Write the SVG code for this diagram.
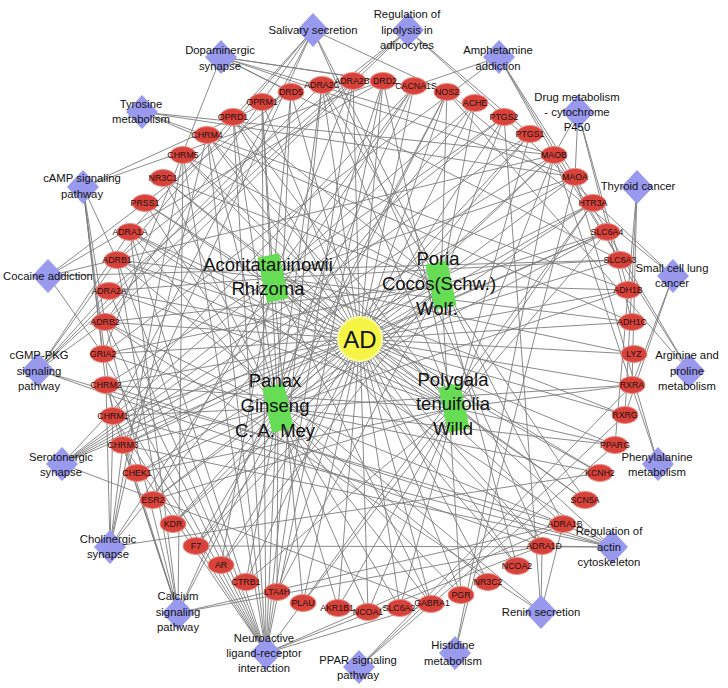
<svg xmlns="http://www.w3.org/2000/svg" xmlns:xlink="http://www.w3.org/1999/xlink" width="728" height="688" viewBox="0 0 728 688">
<style>
#edges line{stroke:#7d7d7d;stroke-width:0.9}
.t ellipse{fill:#d7433b;stroke:#ec8a82;stroke-width:1}
.t text{font-family:"Liberation Sans",Arial,sans-serif;font-size:8.8px;fill:#241010;text-anchor:middle}
.p use{fill:#9999ee}
.p text{font-family:"Liberation Sans",Arial,sans-serif;font-size:11.3px;fill:#111;text-anchor:middle}
.h rect{fill:#66dd55}
.h text{font-family:"Liberation Sans",Arial,sans-serif;font-size:18.5px;fill:#111;text-anchor:middle}
</style>
<defs>
<polygon id="dia" points="0,-17 16,0 0,17 -16,0"/>
</defs>
<rect width="728" height="688" fill="#fff"/>
<g id="edges">
<line x1="360" y1="339" x2="322" y2="85"/><line x1="360" y1="339" x2="353" y2="81"/><line x1="360" y1="339" x2="383" y2="81"/><line x1="360" y1="339" x2="414" y2="86"/><line x1="360" y1="339" x2="447" y2="92"/><line x1="360" y1="339" x2="475" y2="103"/><line x1="360" y1="339" x2="504" y2="117"/><line x1="360" y1="339" x2="530" y2="134"/><line x1="360" y1="339" x2="554" y2="155"/><line x1="360" y1="339" x2="575" y2="177"/><line x1="360" y1="339" x2="593" y2="203"/><line x1="360" y1="339" x2="607" y2="232"/><line x1="360" y1="339" x2="620" y2="260"/><line x1="360" y1="339" x2="628" y2="290"/><line x1="360" y1="339" x2="632" y2="322"/><line x1="360" y1="339" x2="634" y2="354"/><line x1="360" y1="339" x2="632" y2="385"/><line x1="360" y1="339" x2="625" y2="415"/><line x1="360" y1="339" x2="615" y2="445"/><line x1="360" y1="339" x2="600" y2="473"/><line x1="360" y1="339" x2="585" y2="500"/><line x1="360" y1="339" x2="563" y2="524"/><line x1="360" y1="339" x2="542" y2="546"/><line x1="360" y1="339" x2="517" y2="566"/><line x1="360" y1="339" x2="488" y2="582"/><line x1="360" y1="339" x2="461" y2="595"/><line x1="360" y1="339" x2="431" y2="604"/><line x1="360" y1="339" x2="400" y2="608"/><line x1="360" y1="339" x2="368" y2="612"/><line x1="360" y1="339" x2="338" y2="608"/><line x1="360" y1="339" x2="303" y2="603"/><line x1="360" y1="339" x2="277" y2="592"/><line x1="360" y1="339" x2="246" y2="582"/><line x1="360" y1="339" x2="221" y2="565"/><line x1="360" y1="339" x2="196" y2="546"/><line x1="360" y1="339" x2="173" y2="524"/><line x1="360" y1="339" x2="153" y2="500"/><line x1="360" y1="339" x2="137" y2="473"/><line x1="360" y1="339" x2="123" y2="445"/><line x1="360" y1="339" x2="113" y2="416"/><line x1="360" y1="339" x2="106" y2="385"/><line x1="360" y1="339" x2="103" y2="354"/><line x1="360" y1="339" x2="105" y2="322"/><line x1="360" y1="339" x2="109" y2="291"/><line x1="360" y1="339" x2="117" y2="260"/><line x1="360" y1="339" x2="130" y2="232"/><line x1="360" y1="339" x2="145" y2="203"/><line x1="360" y1="339" x2="163" y2="178"/><line x1="360" y1="339" x2="183" y2="155"/><line x1="360" y1="339" x2="207" y2="135"/><line x1="360" y1="339" x2="233" y2="117"/><line x1="360" y1="339" x2="262" y2="102"/><line x1="360" y1="339" x2="291" y2="92"/>
<line x1="273" y1="278" x2="353" y2="81"/><line x1="273" y1="278" x2="414" y2="86"/><line x1="273" y1="278" x2="475" y2="103"/><line x1="273" y1="278" x2="575" y2="177"/><line x1="273" y1="278" x2="620" y2="260"/><line x1="273" y1="278" x2="632" y2="322"/><line x1="273" y1="278" x2="634" y2="354"/><line x1="273" y1="278" x2="625" y2="415"/><line x1="273" y1="278" x2="542" y2="546"/><line x1="273" y1="278" x2="517" y2="566"/><line x1="273" y1="278" x2="431" y2="604"/><line x1="273" y1="278" x2="303" y2="603"/><line x1="273" y1="278" x2="113" y2="416"/><line x1="273" y1="278" x2="106" y2="385"/><line x1="273" y1="278" x2="117" y2="260"/><line x1="273" y1="278" x2="109" y2="291"/><line x1="273" y1="278" x2="262" y2="102"/><line x1="273" y1="278" x2="291" y2="92"/><line x1="273" y1="278" x2="504" y2="117"/><line x1="273" y1="278" x2="600" y2="473"/><line x1="273" y1="278" x2="153" y2="500"/><line x1="273" y1="278" x2="221" y2="565"/>
<line x1="441" y1="285" x2="475" y2="103"/><line x1="441" y1="285" x2="504" y2="117"/><line x1="441" y1="285" x2="447" y2="92"/><line x1="441" y1="285" x2="105" y2="322"/><line x1="441" y1="285" x2="123" y2="445"/><line x1="441" y1="285" x2="103" y2="354"/><line x1="441" y1="285" x2="173" y2="524"/><line x1="441" y1="285" x2="196" y2="546"/><line x1="441" y1="285" x2="221" y2="565"/><line x1="441" y1="285" x2="277" y2="592"/><line x1="441" y1="285" x2="461" y2="595"/><line x1="441" y1="285" x2="517" y2="566"/><line x1="441" y1="285" x2="183" y2="155"/><line x1="441" y1="285" x2="163" y2="178"/><line x1="441" y1="285" x2="233" y2="117"/><line x1="441" y1="285" x2="322" y2="85"/><line x1="441" y1="285" x2="607" y2="232"/><line x1="441" y1="285" x2="628" y2="290"/><line x1="441" y1="285" x2="585" y2="500"/>
<line x1="278" y1="408" x2="322" y2="85"/><line x1="278" y1="408" x2="383" y2="81"/><line x1="278" y1="408" x2="447" y2="92"/><line x1="278" y1="408" x2="530" y2="134"/><line x1="278" y1="408" x2="554" y2="155"/><line x1="278" y1="408" x2="593" y2="203"/><line x1="278" y1="408" x2="607" y2="232"/><line x1="278" y1="408" x2="628" y2="290"/><line x1="278" y1="408" x2="632" y2="385"/><line x1="278" y1="408" x2="615" y2="445"/><line x1="278" y1="408" x2="600" y2="473"/><line x1="278" y1="408" x2="563" y2="524"/><line x1="278" y1="408" x2="488" y2="582"/><line x1="278" y1="408" x2="461" y2="595"/><line x1="278" y1="408" x2="431" y2="604"/><line x1="278" y1="408" x2="400" y2="608"/><line x1="278" y1="408" x2="368" y2="612"/><line x1="278" y1="408" x2="338" y2="608"/><line x1="278" y1="408" x2="277" y2="592"/><line x1="278" y1="408" x2="246" y2="582"/><line x1="278" y1="408" x2="196" y2="546"/><line x1="278" y1="408" x2="173" y2="524"/><line x1="278" y1="408" x2="153" y2="500"/><line x1="278" y1="408" x2="137" y2="473"/><line x1="278" y1="408" x2="123" y2="445"/><line x1="278" y1="408" x2="113" y2="416"/><line x1="278" y1="408" x2="103" y2="354"/><line x1="278" y1="408" x2="105" y2="322"/><line x1="278" y1="408" x2="130" y2="232"/><line x1="278" y1="408" x2="145" y2="203"/><line x1="278" y1="408" x2="163" y2="178"/><line x1="278" y1="408" x2="207" y2="135"/><line x1="278" y1="408" x2="233" y2="117"/><line x1="278" y1="408" x2="262" y2="102"/>
<line x1="454" y1="408" x2="322" y2="85"/><line x1="454" y1="408" x2="233" y2="117"/><line x1="454" y1="408" x2="207" y2="135"/><line x1="454" y1="408" x2="163" y2="178"/><line x1="454" y1="408" x2="145" y2="203"/><line x1="454" y1="408" x2="130" y2="232"/><line x1="454" y1="408" x2="137" y2="473"/><line x1="454" y1="408" x2="246" y2="582"/><line x1="454" y1="408" x2="338" y2="608"/><line x1="454" y1="408" x2="368" y2="612"/><line x1="454" y1="408" x2="400" y2="608"/><line x1="454" y1="408" x2="585" y2="500"/><line x1="454" y1="408" x2="615" y2="445"/><line x1="454" y1="408" x2="632" y2="385"/><line x1="454" y1="408" x2="607" y2="232"/><line x1="454" y1="408" x2="593" y2="203"/><line x1="454" y1="408" x2="554" y2="155"/><line x1="454" y1="408" x2="530" y2="134"/><line x1="454" y1="408" x2="383" y2="81"/><line x1="454" y1="408" x2="106" y2="385"/><line x1="454" y1="408" x2="117" y2="260"/><line x1="454" y1="408" x2="109" y2="291"/><line x1="454" y1="408" x2="153" y2="500"/><line x1="454" y1="408" x2="303" y2="603"/>
<line x1="221" y1="57" x2="383" y2="81"/><line x1="221" y1="57" x2="291" y2="92"/><line x1="221" y1="57" x2="575" y2="177"/><line x1="221" y1="57" x2="554" y2="155"/><line x1="221" y1="57" x2="414" y2="86"/><line x1="221" y1="57" x2="620" y2="260"/><line x1="221" y1="57" x2="103" y2="354"/>
<line x1="142" y1="112" x2="575" y2="177"/><line x1="142" y1="112" x2="554" y2="155"/><line x1="142" y1="112" x2="628" y2="290"/><line x1="142" y1="112" x2="632" y2="322"/>
<line x1="313" y1="30" x2="117" y2="260"/><line x1="313" y1="30" x2="105" y2="322"/><line x1="313" y1="30" x2="130" y2="232"/><line x1="313" y1="30" x2="113" y2="416"/><line x1="313" y1="30" x2="123" y2="445"/><line x1="313" y1="30" x2="447" y2="92"/><line x1="313" y1="30" x2="563" y2="524"/><line x1="313" y1="30" x2="542" y2="546"/>
<line x1="408" y1="30" x2="117" y2="260"/><line x1="408" y1="30" x2="105" y2="322"/><line x1="408" y1="30" x2="109" y2="291"/><line x1="408" y1="30" x2="530" y2="134"/><line x1="408" y1="30" x2="504" y2="117"/>
<line x1="499" y1="57" x2="575" y2="177"/><line x1="499" y1="57" x2="554" y2="155"/><line x1="499" y1="57" x2="620" y2="260"/><line x1="499" y1="57" x2="103" y2="354"/><line x1="499" y1="57" x2="414" y2="86"/>
<line x1="578" y1="112" x2="575" y2="177"/><line x1="578" y1="112" x2="554" y2="155"/><line x1="578" y1="112" x2="628" y2="290"/><line x1="578" y1="112" x2="632" y2="322"/>
<line x1="637" y1="187" x2="632" y2="385"/><line x1="637" y1="187" x2="625" y2="415"/><line x1="637" y1="187" x2="615" y2="445"/>
<line x1="673" y1="276" x2="632" y2="385"/><line x1="673" y1="276" x2="625" y2="415"/><line x1="673" y1="276" x2="504" y2="117"/><line x1="673" y1="276" x2="447" y2="92"/>
<line x1="689" y1="371" x2="447" y2="92"/><line x1="689" y1="371" x2="575" y2="177"/><line x1="689" y1="371" x2="554" y2="155"/>
<line x1="658" y1="464" x2="575" y2="177"/><line x1="658" y1="464" x2="554" y2="155"/>
<line x1="612" y1="547" x2="130" y2="232"/><line x1="612" y1="547" x2="563" y2="524"/><line x1="612" y1="547" x2="542" y2="546"/><line x1="612" y1="547" x2="196" y2="546"/><line x1="612" y1="547" x2="113" y2="416"/><line x1="612" y1="547" x2="106" y2="385"/><line x1="612" y1="547" x2="123" y2="445"/><line x1="612" y1="547" x2="183" y2="155"/>
<line x1="541" y1="612" x2="117" y2="260"/><line x1="541" y1="612" x2="105" y2="322"/><line x1="541" y1="612" x2="542" y2="546"/><line x1="541" y1="612" x2="563" y2="524"/><line x1="541" y1="612" x2="504" y2="117"/>
<line x1="455" y1="653" x2="575" y2="177"/><line x1="455" y1="653" x2="554" y2="155"/>
<line x1="359" y1="667" x2="615" y2="445"/><line x1="359" y1="667" x2="632" y2="385"/><line x1="359" y1="667" x2="625" y2="415"/>
<line x1="266" y1="653" x2="113" y2="416"/><line x1="266" y1="653" x2="106" y2="385"/><line x1="266" y1="653" x2="123" y2="445"/><line x1="266" y1="653" x2="207" y2="135"/><line x1="266" y1="653" x2="183" y2="155"/><line x1="266" y1="653" x2="383" y2="81"/><line x1="266" y1="653" x2="291" y2="92"/><line x1="266" y1="653" x2="130" y2="232"/><line x1="266" y1="653" x2="563" y2="524"/><line x1="266" y1="653" x2="542" y2="546"/><line x1="266" y1="653" x2="109" y2="291"/><line x1="266" y1="653" x2="353" y2="81"/><line x1="266" y1="653" x2="322" y2="85"/><line x1="266" y1="653" x2="117" y2="260"/><line x1="266" y1="653" x2="105" y2="322"/><line x1="266" y1="653" x2="262" y2="102"/><line x1="266" y1="653" x2="233" y2="117"/><line x1="266" y1="653" x2="431" y2="604"/><line x1="266" y1="653" x2="103" y2="354"/><line x1="266" y1="653" x2="593" y2="203"/>
<line x1="178" y1="613" x2="113" y2="416"/><line x1="178" y1="613" x2="106" y2="385"/><line x1="178" y1="613" x2="123" y2="445"/><line x1="178" y1="613" x2="183" y2="155"/><line x1="178" y1="613" x2="130" y2="232"/><line x1="178" y1="613" x2="563" y2="524"/><line x1="178" y1="613" x2="542" y2="546"/><line x1="178" y1="613" x2="117" y2="260"/><line x1="178" y1="613" x2="105" y2="322"/><line x1="178" y1="613" x2="447" y2="92"/><line x1="178" y1="613" x2="414" y2="86"/>
<line x1="110" y1="547" x2="113" y2="416"/><line x1="110" y1="547" x2="106" y2="385"/><line x1="110" y1="547" x2="123" y2="445"/><line x1="110" y1="547" x2="207" y2="135"/><line x1="110" y1="547" x2="183" y2="155"/><line x1="110" y1="547" x2="475" y2="103"/><line x1="110" y1="547" x2="414" y2="86"/><line x1="110" y1="547" x2="600" y2="473"/>
<line x1="62" y1="464" x2="593" y2="203"/><line x1="62" y1="464" x2="607" y2="232"/><line x1="62" y1="464" x2="575" y2="177"/><line x1="62" y1="464" x2="554" y2="155"/><line x1="62" y1="464" x2="530" y2="134"/><line x1="62" y1="464" x2="504" y2="117"/><line x1="62" y1="464" x2="431" y2="604"/><line x1="62" y1="464" x2="414" y2="86"/>
<line x1="38" y1="370" x2="130" y2="232"/><line x1="38" y1="370" x2="563" y2="524"/><line x1="38" y1="370" x2="542" y2="546"/><line x1="38" y1="370" x2="109" y2="291"/><line x1="38" y1="370" x2="353" y2="81"/><line x1="38" y1="370" x2="322" y2="85"/><line x1="38" y1="370" x2="117" y2="260"/><line x1="38" y1="370" x2="105" y2="322"/>
<line x1="48" y1="276" x2="383" y2="81"/><line x1="48" y1="276" x2="620" y2="260"/><line x1="48" y1="276" x2="554" y2="155"/><line x1="48" y1="276" x2="103" y2="354"/><line x1="48" y1="276" x2="291" y2="92"/>
<line x1="83" y1="187" x2="117" y2="260"/><line x1="83" y1="187" x2="105" y2="322"/><line x1="83" y1="187" x2="383" y2="81"/><line x1="83" y1="187" x2="291" y2="92"/><line x1="83" y1="187" x2="113" y2="416"/><line x1="83" y1="187" x2="106" y2="385"/><line x1="83" y1="187" x2="103" y2="354"/>
</g>
<g id="targets" class="t">
<g id="n-ADRA2C"><ellipse cx="322" cy="85" rx="13" ry="8.5"/><text x="322" y="88">ADRA2C</text></g>
<g id="n-ADRA2B"><ellipse cx="353" cy="81" rx="13" ry="8.5"/><text x="352" y="84">ADRA2B</text></g>
<g id="n-DRD2"><ellipse cx="383" cy="81" rx="13" ry="8.5"/><text x="385" y="84">DRD2</text></g>
<g id="n-CACNA1S"><ellipse cx="414" cy="86" rx="13" ry="8.5"/><text x="416" y="89">CACNA1S</text></g>
<g id="n-NOS2"><ellipse cx="447" cy="92" rx="13" ry="8.5"/><text x="447" y="95">NOS2</text></g>
<g id="n-ACHE"><ellipse cx="475" cy="103" rx="13" ry="8.5"/><text x="475" y="106">ACHE</text></g>
<g id="n-PTGS2"><ellipse cx="504" cy="117" rx="13" ry="8.5"/><text x="504" y="120">PTGS2</text></g>
<g id="n-PTGS1"><ellipse cx="530" cy="134" rx="13" ry="8.5"/><text x="530" y="137">PTGS1</text></g>
<g id="n-MAOB"><ellipse cx="554" cy="155" rx="13" ry="8.5"/><text x="554" y="158">MAOB</text></g>
<g id="n-MAOA"><ellipse cx="575" cy="177" rx="13" ry="8.5"/><text x="575" y="180">MAOA</text></g>
<g id="n-HTR3A"><ellipse cx="593" cy="203" rx="13" ry="8.5"/><text x="593" y="206">HTR3A</text></g>
<g id="n-SLC6A4"><ellipse cx="607" cy="232" rx="13" ry="8.5"/><text x="607" y="235">SLC6A4</text></g>
<g id="n-SLC6A3"><ellipse cx="620" cy="260" rx="13" ry="8.5"/><text x="620" y="263">SLC6A3</text></g>
<g id="n-ADH1B"><ellipse cx="628" cy="290" rx="13" ry="8.5"/><text x="628" y="293">ADH1B</text></g>
<g id="n-ADH1C"><ellipse cx="632" cy="322" rx="13" ry="8.5"/><text x="632" y="325">ADH1C</text></g>
<g id="n-LYZ"><ellipse cx="634" cy="354" rx="13" ry="8.5"/><text x="634" y="357">LYZ</text></g>
<g id="n-RXRA"><ellipse cx="632" cy="385" rx="13" ry="8.5"/><text x="632" y="388">RXRA</text></g>
<g id="n-RXRG"><ellipse cx="625" cy="415" rx="13" ry="8.5"/><text x="625" y="418">RXRG</text></g>
<g id="n-PPARG"><ellipse cx="615" cy="445" rx="13" ry="8.5"/><text x="615" y="448">PPARG</text></g>
<g id="n-KCNH2"><ellipse cx="600" cy="473" rx="13" ry="8.5"/><text x="600" y="476">KCNH2</text></g>
<g id="n-SCN5A"><ellipse cx="585" cy="500" rx="13" ry="8.5"/><text x="585" y="503">SCN5A</text></g>
<g id="n-ADRA1B"><ellipse cx="563" cy="524" rx="13" ry="8.5"/><text x="565" y="527">ADRA1B</text></g>
<g id="n-ADRA1D"><ellipse cx="542" cy="546" rx="13" ry="8.5"/><text x="544" y="549">ADRA1D</text></g>
<g id="n-NCOA2"><ellipse cx="517" cy="566" rx="13" ry="8.5"/><text x="517" y="569">NCOA2</text></g>
<g id="n-NR3C2"><ellipse cx="488" cy="582" rx="13" ry="8.5"/><text x="488" y="585">NR3C2</text></g>
<g id="n-PGR"><ellipse cx="461" cy="595" rx="13" ry="8.5"/><text x="461" y="598">PGR</text></g>
<g id="n-GABRA1"><ellipse cx="431" cy="604" rx="13" ry="8.5"/><text x="432" y="606">GABRA1</text></g>
<g id="n-SLC6A2"><ellipse cx="400" cy="608" rx="13" ry="8.5"/><text x="399" y="611">SLC6A2</text></g>
<g id="n-NCOA1"><ellipse cx="368" cy="612" rx="13" ry="8.5"/><text x="368" y="615">NCOA1</text></g>
<g id="n-AKR1B1"><ellipse cx="338" cy="608" rx="13" ry="8.5"/><text x="337" y="611">AKR1B1</text></g>
<g id="n-PLAU"><ellipse cx="303" cy="603" rx="13" ry="8.5"/><text x="303" y="606">PLAU</text></g>
<g id="n-LTA4H"><ellipse cx="277" cy="592" rx="13" ry="8.5"/><text x="277" y="595">LTA4H</text></g>
<g id="n-CTRB1"><ellipse cx="246" cy="582" rx="13" ry="8.5"/><text x="246" y="585">CTRB1</text></g>
<g id="n-AR"><ellipse cx="221" cy="565" rx="13" ry="8.5"/><text x="221" y="568">AR</text></g>
<g id="n-F7"><ellipse cx="196" cy="546" rx="13" ry="8.5"/><text x="196" y="549">F7</text></g>
<g id="n-KDR"><ellipse cx="173" cy="524" rx="13" ry="8.5"/><text x="173" y="527">KDR</text></g>
<g id="n-ESR2"><ellipse cx="153" cy="500" rx="13" ry="8.5"/><text x="153" y="503">ESR2</text></g>
<g id="n-CHEK1"><ellipse cx="137" cy="473" rx="13" ry="8.5"/><text x="137" y="476">CHEK1</text></g>
<g id="n-CHRM3"><ellipse cx="123" cy="445" rx="13" ry="8.5"/><text x="123" y="448">CHRM3</text></g>
<g id="n-CHRM1"><ellipse cx="113" cy="416" rx="13" ry="8.5"/><text x="113" y="419">CHRM1</text></g>
<g id="n-CHRM2"><ellipse cx="106" cy="385" rx="13" ry="8.5"/><text x="106" y="388">CHRM2</text></g>
<g id="n-GRIA2"><ellipse cx="103" cy="354" rx="13" ry="8.5"/><text x="103" y="357">GRIA2</text></g>
<g id="n-ADRB2"><ellipse cx="105" cy="322" rx="13" ry="8.5"/><text x="105" y="325">ADRB2</text></g>
<g id="n-ADRA2A"><ellipse cx="109" cy="291" rx="13" ry="8.5"/><text x="109" y="294">ADRA2A</text></g>
<g id="n-ADRB1"><ellipse cx="117" cy="260" rx="13" ry="8.5"/><text x="117" y="263">ADRB1</text></g>
<g id="n-ADRA1A"><ellipse cx="130" cy="232" rx="13" ry="8.5"/><text x="130" y="235">ADRA1A</text></g>
<g id="n-PRSS1"><ellipse cx="145" cy="203" rx="13" ry="8.5"/><text x="145" y="206">PRSS1</text></g>
<g id="n-NR3C1"><ellipse cx="163" cy="178" rx="13" ry="8.5"/><text x="163" y="181">NR3C1</text></g>
<g id="n-CHRM5"><ellipse cx="183" cy="155" rx="13" ry="8.5"/><text x="183" y="158">CHRM5</text></g>
<g id="n-CHRM4"><ellipse cx="207" cy="135" rx="13" ry="8.5"/><text x="207" y="138">CHRM4</text></g>
<g id="n-OPRD1"><ellipse cx="233" cy="117" rx="13" ry="8.5"/><text x="233" y="120">OPRD1</text></g>
<g id="n-OPRM1"><ellipse cx="262" cy="102" rx="13" ry="8.5"/><text x="262" y="105">OPRM1</text></g>
<g id="n-DRD5"><ellipse cx="291" cy="92" rx="13" ry="8.5"/><text x="291" y="95">DRD5</text></g>
</g>
<g id="herbs" class="h">
<g id="n-Acoritataninowii"><rect x="-11" y="-23" width="22" height="46" transform="translate(273 278) rotate(-12)"/><text x="268" y="271">Acoritataninowii</text><text x="268" y="295">Rhizoma</text></g>
<g id="n-Poria"><rect x="-11" y="-23" width="22" height="46" transform="translate(441 285) rotate(-12)"/><text x="438" y="265">Poria</text><text x="439" y="290">Cocos(Schw.)</text><text x="437" y="315">Wolf.</text></g>
<g id="n-Panax"><rect x="-11" y="-23" width="22" height="46" transform="translate(278 408) rotate(-12)"/><text x="275" y="387">Panax</text><text x="275" y="412">Ginseng</text><text x="275" y="437">C. A. Mey</text></g>
<g id="n-Polygala"><rect x="-11" y="-23" width="22" height="46" transform="translate(454 408) rotate(-12)"/><text x="453" y="386">Polygala</text><text x="453" y="410">tenuifolia</text><text x="453" y="435">Willd</text></g>
</g>
<g id="pathways" class="p">
<g id="n-salivary"><use xlink:href="#dia" href="#dia" x="313" y="30"/><text x="313" y="34">Salivary secretion</text></g>
<g id="n-lipolysis"><use xlink:href="#dia" href="#dia" x="408" y="30"/><text x="407" y="18">Regulation of</text><text x="407" y="34">lipolysis in</text><text x="407" y="49">adipocytes</text></g>
<g id="n-amphetamine"><use xlink:href="#dia" href="#dia" x="499" y="57"/><text x="498" y="54">Amphetamine</text><text x="498" y="70">addiction</text></g>
<g id="n-dopaminergic"><use xlink:href="#dia" href="#dia" x="221" y="57"/><text x="220" y="54">Dopaminergic</text><text x="220" y="70">synapse</text></g>
<g id="n-tyrosine"><use xlink:href="#dia" href="#dia" x="142" y="112"/><text x="141" y="108">Tyrosine</text><text x="141" y="123">metabolism</text></g>
<g id="n-drugmet"><use xlink:href="#dia" href="#dia" x="578" y="112"/><text x="577" y="101">Drug metabolism</text><text x="577" y="116">- cytochrome</text><text x="577" y="131">P450</text></g>
<g id="n-thyroid"><use xlink:href="#dia" href="#dia" x="637" y="187"/><text x="638" y="190">Thyroid cancer</text></g>
<g id="n-camp"><use xlink:href="#dia" href="#dia" x="83" y="187"/><text x="82" y="182">cAMP signaling</text><text x="82" y="198">pathway</text></g>
<g id="n-sclc"><use xlink:href="#dia" href="#dia" x="673" y="276"/><text x="672" y="272">Small cell lung</text><text x="672" y="287">cancer</text></g>
<g id="n-cocaine"><use xlink:href="#dia" href="#dia" x="48" y="276"/><text x="48" y="280">Cocaine addiction</text></g>
<g id="n-cgmp"><use xlink:href="#dia" href="#dia" x="38" y="370"/><text x="39" y="359">cGMP-PKG</text><text x="39" y="375">signaling</text><text x="39" y="390">pathway</text></g>
<g id="n-arginine"><use xlink:href="#dia" href="#dia" x="689" y="371"/><text x="687" y="359">Arginine and</text><text x="687" y="375">proline</text><text x="687" y="390">metabolism</text></g>
<g id="n-serotonergic"><use xlink:href="#dia" href="#dia" x="62" y="464"/><text x="61" y="461">Serotonergic</text><text x="61" y="476">synapse</text></g>
<g id="n-phenylalanine"><use xlink:href="#dia" href="#dia" x="658" y="464"/><text x="657" y="461">Phenylalanine</text><text x="657" y="476">metabolism</text></g>
<g id="n-cholinergic"><use xlink:href="#dia" href="#dia" x="110" y="547"/><text x="108" y="543">Cholinergic</text><text x="108" y="558">synapse</text></g>
<g id="n-actin"><use xlink:href="#dia" href="#dia" x="612" y="547"/><text x="609" y="535">Regulation of</text><text x="609" y="551">actin</text><text x="609" y="566">cytoskeleton</text></g>
<g id="n-calcium"><use xlink:href="#dia" href="#dia" x="178" y="613"/><text x="178" y="600">Calcium</text><text x="178" y="616">signaling</text><text x="178" y="631">pathway</text></g>
<g id="n-renin"><use xlink:href="#dia" href="#dia" x="541" y="612"/><text x="541" y="616">Renin secretion</text></g>
<g id="n-neuroactive"><use xlink:href="#dia" href="#dia" x="266" y="653"/><text x="264" y="642">Neuroactive</text><text x="264" y="657">ligand-receptor</text><text x="264" y="672">interaction</text></g>
<g id="n-ppar"><use xlink:href="#dia" href="#dia" x="359" y="667"/><text x="358" y="664">PPAR signaling</text><text x="358" y="679">pathway</text></g>
<g id="n-histidine"><use xlink:href="#dia" href="#dia" x="455" y="653"/><text x="453" y="649">Histidine</text><text x="453" y="665">metabolism</text></g>
</g>
<g id="n-AD"><circle cx="360" cy="339" r="22" fill="#f6f445" stroke="#fafaa0" stroke-width="2"/><text x="360" y="348" font-family="Liberation Sans, Arial, sans-serif" font-size="24" text-anchor="middle" fill="#111">AD</text></g>
</svg>
